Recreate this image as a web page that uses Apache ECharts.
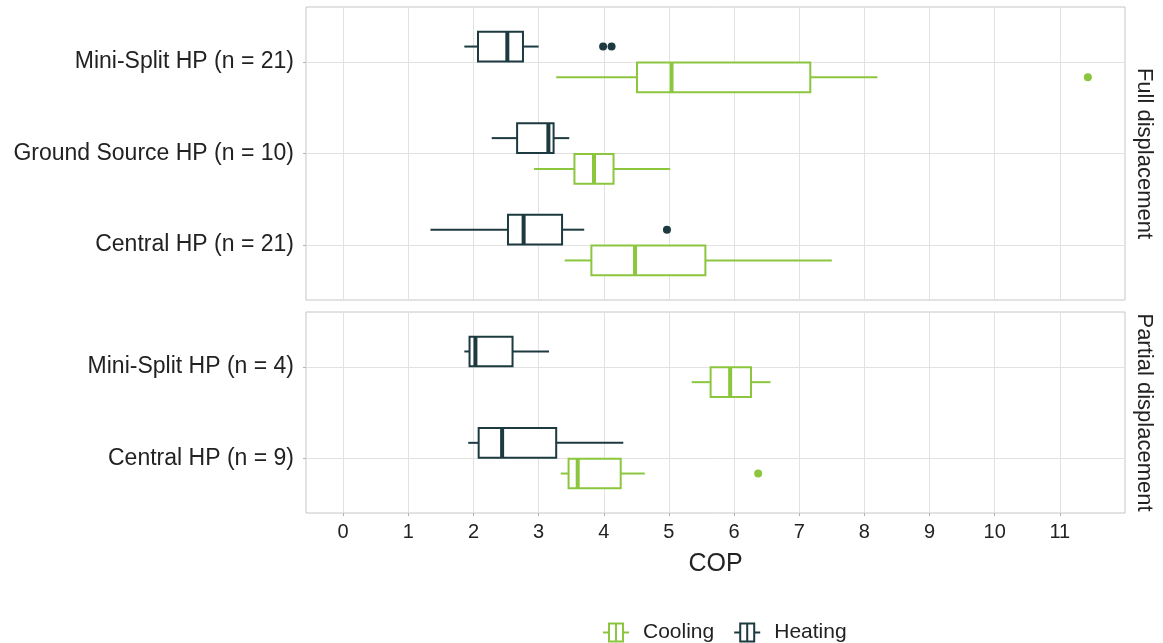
<!DOCTYPE html>
<html>
<head>
<meta charset="utf-8">
<script src="https://cdn.jsdelivr.net/npm/echarts@6/dist/echarts.min.js"></script>
<style>
  html, body { margin: 0; padding: 0; background: #ffffff; }
  #chart { width: 1163px; height: 643px; }
</style>
</head>
<body>
<div id="chart"></div>
<script>
// ---- Data (COP) ----
const categoriesFull = ['Mini-Split HP (n = 21)', 'Ground Source HP (n = 10)', 'Central HP (n = 21)'];
const categoriesPartial = ['Mini-Split HP (n = 4)', 'Central HP (n = 9)'];
const panelNames = ['Full displacement', 'Partial displacement'];
const xTicks = [0, 1, 2, 3, 4, 5, 6, 7, 8, 9, 10, 11];

// [lower whisker, Q1, median, Q3, upper whisker], one row per category
const heatingFull = [
  [1.86, 2.07, 2.52, 2.76, 3.00],
  [2.28, 2.67, 3.15, 3.23, 3.47],
  [1.34, 2.53, 2.77, 3.36, 3.70]
];
const coolingFull = [
  [3.27, 4.51, 5.04, 7.17, 8.20],
  [2.93, 3.55, 3.85, 4.15, 5.02],
  [3.40, 3.81, 4.48, 5.56, 7.50]
];
const heatingPartial = [
  [1.86, 1.94, 2.03, 2.60, 3.16],
  [1.92, 2.08, 2.44, 3.27, 4.30]
];
const coolingPartial = [
  [5.35, 5.64, 5.94, 6.26, 6.56],
  [3.34, 3.46, 3.60, 4.26, 4.63]
];
// outliers: [COP value, category index]
const heatingOutliersFull = [[3.99, 0], [4.12, 0], [4.97, 2]];
const coolingOutliersFull = [[11.43, 0]];
const heatingOutliersPartial = [];
const coolingOutliersPartial = [[6.37, 1]];

// ---- Styling ----
const HEAT = '#1c3a40';
const COOL = '#8cc63f';
const FONT = '"Liberation Sans", Arial, Helvetica, sans-serif';
const TXT = '#222222';
const GRIDC = '#e2e2e2';
const BORDER = '#c6c6c6';
const DODGE = 0.168;   // half distance between dodged boxes (axis units)
const HALF = 0.162;    // half box thickness (axis units)

function boxSeries(name, rows, yAxisIndex, xAxisIndex, dir, color) {
  return {
    type: 'custom',
    name: name,
    xAxisIndex: xAxisIndex,
    yAxisIndex: yAxisIndex,
    itemStyle: { color: color },
    data: rows.map((r, i) => [i].concat(r)),
    encode: { x: [1, 2, 3, 4, 5], y: 0 },
    z: 3,
    renderItem: function (params, api) {
      const yc = api.value(0) + dir * DODGE;
      const lo = api.value(1), q1 = api.value(2), med = api.value(3), q3 = api.value(4), hi = api.value(5);
      const a = api.coord([q1, yc - HALF]);
      const b = api.coord([q3, yc + HALF]);
      const pLo = api.coord([lo, yc]);
      const pQ1 = api.coord([q1, yc]);
      const pQ3 = api.coord([q3, yc]);
      const pHi = api.coord([hi, yc]);
      const m1 = api.coord([med, yc - HALF]);
      const m2 = api.coord([med, yc + HALF]);
      const y0 = Math.min(a[1], b[1]), y1 = Math.max(a[1], b[1]);
      return {
        type: 'group',
        children: [
          { type: 'line', shape: { x1: pLo[0], y1: pLo[1], x2: pQ1[0], y2: pQ1[1] }, style: { stroke: color, lineWidth: 2 } },
          { type: 'line', shape: { x1: pQ3[0], y1: pQ3[1], x2: pHi[0], y2: pHi[1] }, style: { stroke: color, lineWidth: 2 } },
          { type: 'rect', shape: { x: a[0], y: y0, width: b[0] - a[0], height: y1 - y0 }, style: { fill: '#ffffff', stroke: color, lineWidth: 2 } },
          { type: 'line', shape: { x1: m1[0], y1: y0, x2: m2[0], y2: y1 }, style: { stroke: color, lineWidth: 4 } }
        ]
      };
    }
  };
}

function outlierSeries(name, pts, yAxisIndex, xAxisIndex, dir, color) {
  return {
    type: 'scatter',
    name: name,
    xAxisIndex: xAxisIndex,
    yAxisIndex: yAxisIndex,
    symbol: 'circle',
    symbolSize: 8,
    itemStyle: { color: color, opacity: 1 },
    z: 4,
    data: pts.map(p => [p[0], p[1] + dir * DODGE])
  };
}

function catAxis(gridIndex, cats) {
  const ticks = cats.map((c, i) => i);
  return {
    type: 'value',
    gridIndex: gridIndex,
    inverse: true,
    min: -0.6,
    max: cats.length - 1 + 0.6,
    axisLine: { show: false, onZero: false },
    axisTick: { show: true, length: 3, customValues: ticks, lineStyle: { color: '#b3b3b3' } },
    axisLabel: {
      customValues: ticks,
      formatter: v => cats[Math.round(v)],
      fontFamily: FONT, fontSize: 23, color: TXT, margin: 12
    },
    splitLine: { show: true, lineStyle: { color: GRIDC, width: 1 } }
  };
}

function stripAxis(gridIndex, cats, name) {
  return {
    type: 'value',
    gridIndex: gridIndex,
    position: 'right',
    inverse: true,
    min: -0.6,
    max: cats.length - 1 + 0.6,
    axisLine: { show: false, onZero: false },
    axisTick: { show: false },
    axisLabel: { show: false },
    splitLine: { show: false },
    name: name,
    nameLocation: 'middle',
    nameRotate: -90,
    nameGap: 8,
    nameTextStyle: { fontFamily: FONT, fontSize: 22, color: TXT }
  };
}

function valAxis(gridIndex, showLabels) {
  return {
    type: 'value',
    gridIndex: gridIndex,
    position: 'bottom',
    min: -0.57,
    max: 12.0,
    axisLine: { show: false, onZero: false },
    axisTick: { show: showLabels, length: 3, customValues: xTicks, lineStyle: { color: '#b3b3b3' } },
    axisLabel: {
      show: showLabels,
      customValues: xTicks,
      fontFamily: FONT, fontSize: 20, color: TXT, margin: 9
    },
    splitLine: { show: true, lineStyle: { color: GRIDC, width: 1 } },
    name: showLabels ? 'COP' : '',
    nameLocation: 'middle',
    nameGap: 39,
    nameTextStyle: { fontFamily: FONT, fontSize: 25, color: TXT }
  };
}

const legendIcon = 'path://M0 9h5v2h-5z M5 0h16v20h-16z M7 2v16h12v-16z M12 2h2v16h-2z M21 9h5v2h-5z';

const option = {
  animation: false,
  backgroundColor: '#ffffff',
  grid: [
    { left: 306, top: 7, width: 822, height: 293, show: true, borderColor: BORDER, borderWidth: 1, backgroundColor: '#ffffff' },
    { left: 306, top: 312, width: 822, height: 201, show: true, borderColor: BORDER, borderWidth: 1, backgroundColor: '#ffffff' }
  ],
  xAxis: [valAxis(0, false), valAxis(1, true)],
  yAxis: [
    catAxis(0, categoriesFull),
    stripAxis(0, categoriesFull, panelNames[0]),
    catAxis(1, categoriesPartial),
    stripAxis(1, categoriesPartial, panelNames[1])
  ],
  legend: {
    left: 598,
    top: 617,
    orient: 'horizontal',
    itemWidth: 26,
    itemHeight: 20,
    itemGap: 20,
    data: [
      { name: 'Cooling', icon: legendIcon },
      { name: 'Heating', icon: legendIcon }
    ],
    textStyle: { fontFamily: FONT, fontSize: 21, color: TXT, padding: [0, 0, 0, 9] },
    itemStyle: { borderWidth: 0 }
  },
  series: [
    boxSeries('Heating', heatingFull, 0, 0, -1, HEAT),
    boxSeries('Cooling', coolingFull, 0, 0, 1, COOL),
    boxSeries('Heating', heatingPartial, 2, 1, -1, HEAT),
    boxSeries('Cooling', coolingPartial, 2, 1, 1, COOL),
    outlierSeries('Heating', heatingOutliersFull, 0, 0, -1, HEAT),
    outlierSeries('Cooling', coolingOutliersFull, 0, 0, 1, COOL),
    outlierSeries('Heating', heatingOutliersPartial, 2, 1, -1, HEAT),
    outlierSeries('Cooling', coolingOutliersPartial, 2, 1, 1, COOL)
  ]
};

const chart = echarts.init(document.getElementById('chart'), null, { renderer: 'canvas' });
chart.setOption(option);
</script>
</body>
</html>
